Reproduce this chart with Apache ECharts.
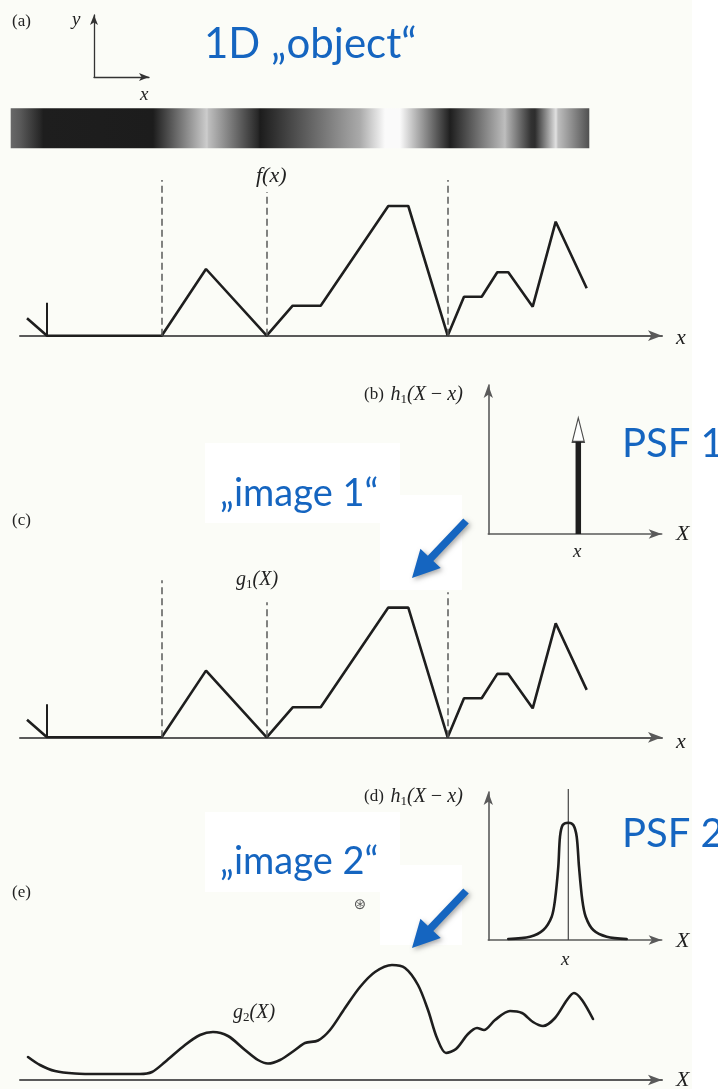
<!DOCTYPE html>
<html><head><meta charset="utf-8">
<script src="https://cdn.jsdelivr.net/npm/echarts@6/dist/echarts.min.js"></script>
<style>html,body{margin:0;padding:0;background:#fbfcf7;} #c{width:718px;height:1089px;}</style>
</head><body><div id="c"></div>
<script>
// ---- data (x in axis units, heights in axis units) ----
// (a) object f(x): polyline vertices
const objX = [0.7, 2.7, 14.17, 18.6, 24.67, 27.27, 30.07, 36.83, 38.83, 42.77, 44.4, 46.17, 47.73, 48.83, 51.27, 53.57, 56.67];
const objY = [1.75, 0, 0, 6.67, 0, 3.0, 3.0, 12.97, 12.97, 0, 3.9, 3.9, 6.34, 6.34, 2.9, 11.4, 4.74];
const edgeTick = [2.7, 3.3];            // x position, height
const dashX = [14.17, 24.67, 42.77];    // dashed guide lines
const dashTopA = [15.57, 14.37, 15.57];
const dashTopC = [15.7, 13.5, 14.5];
// grey-level strip of the object (brightness 0..255)
const stripX = [-0.93, 0, 2.0, 2.33, 13.3, 18.7, 18.85, 23.8, 24.0, 34.0, 36.5, 38.0, 42.8, 43.0, 48.5, 48.7, 51.1, 51.5, 53.6, 53.8, 56.93];
const stripGray = [105, 90, 40, 30, 28, 205, 190, 40, 28, 170, 250, 250, 40, 30, 190, 175, 50, 45, 225, 190, 80];
// (c) image 1 g1(X) (delta PSF -> identical to object)
const img1X = [0.7, 2.7, 14.17, 18.6, 24.67, 27.27, 30.07, 36.83, 38.83, 42.77, 44.4, 46.17, 47.73, 48.83, 51.27, 53.57, 56.67];
const img1Y = [1.75, 0, 0, 6.67, 0, 3.0, 3.0, 12.97, 12.97, 0, 3.9, 3.9, 6.34, 6.34, 2.9, 11.4, 4.74];
// (b) PSF 1: delta spike [position, shaft top, arrow tip]
const psf1 = [9.0, 9.23, 11.6];
// (d) PSF 2
const psf2X = [2.0, 4.17, 5.5, 6.34, 6.67, 7.0, 7.17, 7.44, 8.0, 8.5, 8.84, 9.07, 9.4, 9.74, 10.5, 11.84, 13.84];
const psf2Y = [0.1, 0.33, 1.0, 2.33, 4.0, 7.33, 10.33, 11.5, 11.73, 11.5, 10.33, 7.33, 4.0, 2.33, 1.0, 0.33, 0.1];
const psf2Center = [8.0, 15.1];
// (e) image 2 g2(X)
const img2X = [0.8, 2.0, 3.5, 5.5, 8.0, 12.0, 13.2, 14.5, 16.5, 18.0, 19.3, 20.8, 22.5, 23.8, 24.8, 26.0, 27.5, 28.5, 29.8, 31.0, 32.5, 34.0, 35.5, 37.2, 38.5, 39.8, 40.8, 41.7, 42.6, 43.6, 44.8, 45.7, 46.4, 47.5, 49.0, 50.2, 51.3, 52.3, 53.5, 54.7, 55.4, 56.2, 57.3];
const img2Y = [2.3, 1.5, 0.9, 0.65, 0.6, 0.6, 0.8, 1.8, 3.5, 4.5, 4.8, 4.4, 3.0, 2.0, 1.65, 2.0, 3.0, 3.7, 3.95, 5.0, 7.2, 9.3, 10.8, 11.5, 11.2, 9.5, 7.0, 4.2, 2.7, 3.1, 4.6, 5.2, 5.0, 6.0, 6.9, 6.7, 5.8, 5.4, 6.2, 8.0, 8.7, 8.0, 6.1];

const zip = (a, b) => a.map((v, i) => [v, b[i]]);
const INK = '#1e1e1e', AX = '#5a5a5a', BLUE = '#1565c0';
const SERIF = '"Liberation Serif","Times New Roman",serif';
const SANS = 'Lato, "Open Sans", sans-serif';

const grids = [], xAxes = [], yAxes = [], series = [];
function arrowLine(color, width, size) {
  return { show: true, onZero: false, symbol: ['none', 'arrow'], symbolSize: size, lineStyle: { color: color, width: width } };
}
function addGrid(box, xr, yr, xLine, yLine) {
  grids.push(Object.assign({ containLabel: false }, box));
  const gi = grids.length - 1;
  const base = { gridIndex: gi, type: 'value', axisTick: { show: false }, axisLabel: { show: false }, splitLine: { show: false } };
  xAxes.push(Object.assign({}, base, { min: xr[0], max: xr[1], axisLine: xLine || { show: false } }));
  yAxes.push(Object.assign({}, base, { min: yr[0], max: yr[1], axisLine: yLine || { show: false } }));
  return gi;
}
function line(gi, data, style, extra) {
  series.push(Object.assign({ type: 'line', xAxisIndex: gi, yAxisIndex: gi, data: data, symbol: 'none', silent: true, animation: false, lineStyle: style }, extra || {}));
}
function dashMarks(xs, tops) {
  return { symbol: 'none', silent: true, animation: false, label: { show: false }, lineStyle: { type: [7, 4], color: '#5a5a5a', width: 1.5 },
    data: xs.map((x, i) => [{ coord: [x, 0] }, { coord: [x, tops[i]] }]) };
}

// coordinate icon in (a)
const gIcon = addGrid({ left: 94, top: 15, width: 55, height: 62 }, [0, 1], [0, 1], arrowLine('#333', 1.3, [6, 10]), arrowLine('#333', 1.3, [6, 10]));
// grey strip
const gStrip = addGrid({ left: 10, top: 108.3, width: 652, height: 40 }, [-1, 64.2], [0, 1]);
series.push({ type: 'custom', xAxisIndex: gStrip, yAxisIndex: gStrip, silent: true, animation: false, data: [[stripX[0], stripX[stripX.length - 1]]],
  renderItem: function (params, api) {
    const p0 = api.coord([stripX[0], 0]), p1 = api.coord([stripX[stripX.length - 1], 1]);
    const x0 = p0[0], x1 = p1[0];
    const stops = stripX.map((x, i) => {
      const g = stripGray[i];
      return { offset: (api.coord([x, 0])[0] - x0) / (x1 - x0), color: 'rgb(' + g + ',' + g + ',' + g + ')' };
    });
    return { type: 'rect', shape: { x: x0, y: p1[1], width: x1 - x0, height: p0[1] - p1[1] },
      style: { fill: new echarts.graphic.LinearGradient(0, 0, 1, 0, stops) } };
  } });

// (a)
const gA = addGrid({ left: 20, top: 175.7, width: 642, height: 160 }, [0, 64.2], [0, 16], arrowLine(AX, 2, [8, 14]));
line(gA, zip(objX, objY), { color: INK, width: 2.6 }, { markLine: dashMarks(dashX, dashTopA), z: 3 });
line(gA, [[edgeTick[0], 0], [edgeTick[0], edgeTick[1]]], { color: INK, width: 2 });
// (b)
const gB = addGrid({ left: 488.3, top: 385, width: 173.4, height: 149 }, [0, 17.34], [0, 14.9], arrowLine(AX, 1.6, [7, 13]), arrowLine(AX, 1.6, [7, 13]));
line(gB, [[psf1[0], 0], [psf1[0], psf1[1]]], { color: INK, width: 5.5, cap: 'butt' });
series.push({ type: 'scatter', xAxisIndex: gB, yAxisIndex: gB, silent: true, animation: false, symbol: 'triangle', symbolSize: [12, 24],
  data: [[psf1[0], (psf1[1] + psf1[2]) / 2]], itemStyle: { color: '#fff', borderColor: INK, borderWidth: 1.5 } });
// (c)
const gC = addGrid({ left: 20, top: 577.3, width: 642, height: 160 }, [0, 64.2], [0, 16], arrowLine(AX, 2, [8, 14]));
line(gC, zip(img1X, img1Y), { color: INK, width: 2.6 }, { markLine: dashMarks(dashX, dashTopC), z: 3 });
line(gC, [[edgeTick[0], 0], [edgeTick[0], edgeTick[1]]], { color: INK, width: 2 });
// (d)
const gD = addGrid({ left: 488.3, top: 792, width: 173.4, height: 148 }, [0, 17.34], [0, 14.8], arrowLine(AX, 1.6, [7, 13]), arrowLine(AX, 1.6, [7, 13]));
line(gD, [[psf2Center[0], 0], [psf2Center[0], psf2Center[1]]], { color: '#444', width: 1.2 }, { clip: false });
line(gD, zip(psf2X, psf2Y), { color: INK, width: 2.6, cap: 'round', join: 'round' }, { smooth: 0.3 });
// (e)
const gE = addGrid({ left: 20, top: 920, width: 642, height: 160 }, [0, 64.2], [0, 16], arrowLine(AX, 2, [8, 14]));
line(gE, zip(img2X, img2Y), { color: INK, width: 2.6, cap: 'round', join: 'round' }, { smooth: 0.3 });

// ---- annotations ----
function txt(x, y, text, font, opts) {
  return Object.assign({ type: 'text', x: x, y: y, z: 50, silent: true,
    style: Object.assign({ text: text, font: font, fill: '#222', align: 'left', verticalAlign: 'middle' }, (opts || {})) });
}
const mathRich = {
  i: { fontFamily: SERIF, fontStyle: 'italic', fontSize: 20, fill: '#222' },
  r: { fontFamily: SERIF, fontSize: 17, fill: '#222' },
  s: { fontFamily: SERIF, fontSize: 13, fill: '#222', padding: [9, 0, 0, 0] }
};
function rich(x, y, text, align) {
  return { type: 'text', x: x, y: y, z: 50, silent: true, style: { text: text, rich: mathRich, align: align || 'left', verticalAlign: 'middle' } };
}
function patch(x, y, w, h) { return { type: 'rect', z: -10, silent: true, shape: { x: x, y: y, width: w, height: h }, style: { fill: '#ffffff' } }; }
function blueArrow(tx, ty, hx, hy) {
  const dx = hx - tx, dy = hy - ty, L = Math.hypot(dx, dy), ux = dx / L, uy = dy / L, nx = -uy, ny = ux;
  const hl = 27, hw = 14, sw = 3.8, bx = hx - ux * hl, by = hy - uy * hl;
  const pts = [[tx + nx * sw, ty + ny * sw], [bx + nx * sw, by + ny * sw], [bx + nx * hw, by + ny * hw], [hx, hy],
    [bx - nx * hw, by - ny * hw], [bx - nx * sw, by - ny * sw], [tx - nx * sw, ty - ny * sw]];
  return { type: 'polygon', z: 60, silent: true, shape: { points: pts },
    style: { fill: BLUE, shadowBlur: 5, shadowColor: 'rgba(0,0,0,0.35)', shadowOffsetX: 2, shadowOffsetY: 2 } };
}

const graphics = [
  patch(692, 0, 26, 1089),
  patch(205, 443, 195, 80), patch(380, 495, 82, 95),
  patch(205, 812, 195, 80), patch(380, 865, 82, 80),
  txt(12, 22, '(a)', '17px ' + SERIF),
  txt(72, 20, 'y', 'italic 19px ' + SERIF),
  txt(140, 95, 'x', 'italic 19px ' + SERIF),
  txt(204, 44, '1D \u201Eobject\u201C', '42px ' + SANS, { fill: BLUE }),
  { type: 'text', x: 256, y: 176, z: 50, silent: true, style: { text: 'f(x)', font: 'italic 22px ' + SERIF, fill: '#222', verticalAlign: 'middle' } },
  txt(676, 338, 'x', 'italic 22px ' + SERIF),
  rich(364, 395, '{r|(b)}  {i|h}{s|1}{i|(X\u2009\u2212\u2009x)}'),
  txt(676, 534, 'X', 'italic 22px ' + SERIF),
  txt(573, 552, 'x', 'italic 19px ' + SERIF),
  txt(622, 444, 'PSF 1', '40px ' + SANS, { fill: BLUE }),
  txt(220, 494, '\u201Eimage 1\u201C', '38px ' + SANS, { fill: BLUE }),
  txt(12, 521, '(c)', '17px ' + SERIF),
  rich(236, 580, '{i|g}{s|1}{i|(X)}'),
  txt(676, 742, 'x', 'italic 22px ' + SERIF),
  rich(364, 797, '{r|(d)}  {i|h}{s|1}{i|(X\u2009\u2212\u2009x)}'),
  txt(676, 941, 'X', 'italic 22px ' + SERIF),
  txt(561, 960, 'x', 'italic 19px ' + SERIF),
  txt(622, 834, 'PSF 2', '40px ' + SANS, { fill: BLUE }),
  txt(220, 862, '\u201Eimage 2\u201C', '38px ' + SANS, { fill: BLUE }),
  txt(12, 893, '(e)', '17px ' + SERIF),
  txt(360, 905, '\u229B', '15px "DejaVu Sans"', { fill: '#555', align: 'center' }),
  rich(233, 1013, '{i|g}{s|2}{i|(X)}'),
  txt(676, 1080, 'X', 'italic 22px ' + SERIF),
  blueArrow(466, 521, 412, 578),
  blueArrow(466, 891, 412, 948)
];

const chart = echarts.init(document.getElementById('c'), null, { renderer: 'canvas' });
chart.setOption({
  backgroundColor: '#fbfcf7',
  animation: false,
  grid: grids, xAxis: xAxes, yAxis: yAxes, series: series,
  graphic: graphics
});
</script></body></html>
